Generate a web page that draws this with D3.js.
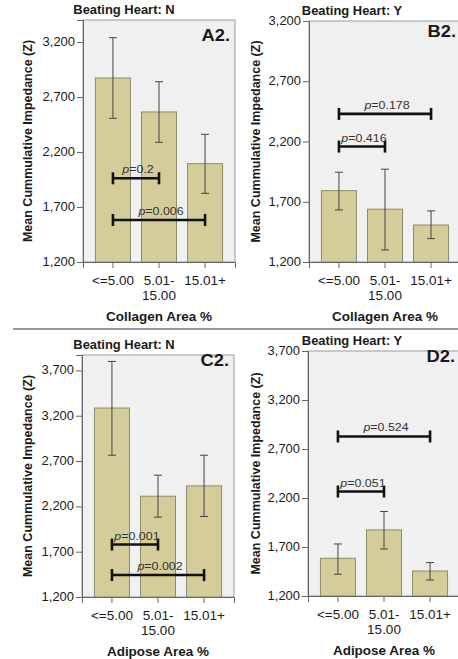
<!DOCTYPE html>
<html>
<head>
<meta charset="utf-8">
<script src="https://cdn.jsdelivr.net/npm/d3@7"></script>
<style>
  body { margin: 0; background: #fff; }
  text { font-family: "Liberation Sans", Arial, sans-serif; fill: #1a1a1a; }
</style>
</head>
<body>
<div id="chart"></div>
<script>
// Category labels (x axis), split into lines as in the original
const categories = ["<=5.00", "5.01-15.00", "15.01+"];
const categoryLines = [["<=5.00"], ["5.01-", "15.00"], ["15.01+"]];

// Panel A2 - collagen, beating heart N
const collagenN_mean = [2873, 2564, 2094];
const collagenN_lo = [2506, 2288, 1824];
const collagenN_hi = [3239, 2839, 2361];
const collagenN_p = [
  { from: 0, to: 1, value: 1961, label: "0.2" },
  { from: 0, to: 2, value: 1582, label: "0.006" }
];

// Panel B2 - collagen, beating heart Y
const collagenY_mean = [1792, 1638, 1507];
const collagenY_lo = [1632, 1300, 1394];
const collagenY_hi = [1945, 1970, 1624];
const collagenY_p = [
  { from: 0, to: 1, value: 2158, label: "0.416" },
  { from: 0, to: 2, value: 2429, label: "0.178" }
];

// Panel C2 - adipose, beating heart N
const adiposeN_mean = [3285, 2312, 2426];
const adiposeN_lo = [2764, 2081, 2088];
const adiposeN_hi = [3799, 2544, 2764];
const adiposeN_p = [
  { from: 0, to: 1, value: 1779, label: "0.001" },
  { from: 0, to: 2, value: 1442, label: "0.002" }
];

// Panel D2 - adipose, beating heart Y
const adiposeY_mean = [1585, 1874, 1455];
const adiposeY_lo = [1422, 1680, 1363];
const adiposeY_hi = [1731, 2062, 1541];
const adiposeY_p = [
  { from: 0, to: 1, value: 2266, label: "0.051" },
  { from: 0, to: 2, value: 2828, label: "0.524" }
];

const ticksCollagen = [1200, 1700, 2200, 2700, 3200];
const ticksAdipose = [1200, 1700, 2200, 2700, 3200, 3700];

const W = 458, H = 659;
const svg = d3.select("#chart").append("svg")
  .attr("width", W).attr("height", H);

const sx = 1.08; // text in the original looks slightly stretched sideways

function label(g, x, y, str, size, opts = {}) {
  const t = g.append("text")
    .attr("transform", `translate(${x},${y}) scale(${sx},1)`)
    .attr("text-anchor", opts.anchor || "middle")
    .style("font-size", size + "px")
    .style("font-weight", opts.bold ? "bold" : "normal");
  if (opts.p) {
    t.append("tspan").style("font-style", "italic").text("p");
    t.append("tspan").text("=" + str);
  } else {
    t.text(str);
  }
  return t;
}

const panels = [
  { ox: 0, oy: 0, left: 83, right: 235, top: 20, bottom: 262, domain: [1200, 3400],
    mean: collagenN_mean, lo: collagenN_lo, hi: collagenN_hi, p: collagenN_p,
    ticks: ticksCollagen, title: "Beating Heart: N", tag: "A2.", tagY: 41, xTitle: "Collagen Area %" },
  { ox: 228, oy: 0, left: 81, right: 233, top: 21, bottom: 262, domain: [1200, 3200],
    mean: collagenY_mean, lo: collagenY_lo, hi: collagenY_hi, p: collagenY_p,
    ticks: ticksCollagen, title: "Beating Heart: Y", tag: "B2.", tagY: 37, xTitle: "Collagen Area %" },
  { ox: 0, oy: 328, left: 82, right: 234, top: 27, bottom: 269, domain: [1200, 3870],
    mean: adiposeN_mean, lo: adiposeN_lo, hi: adiposeN_hi, p: adiposeN_p,
    ticks: ticksAdipose, title: "Beating Heart: N", tag: "C2.", tagY: 38, xTitle: "Adipose Area %" },
  { ox: 228, oy: 328, left: 80, right: 232, top: 23, bottom: 268, domain: [1200, 3700],
    mean: adiposeY_mean, lo: adiposeY_lo, hi: adiposeY_hi, p: adiposeY_p,
    ticks: ticksAdipose, title: "Beating Heart: Y", tag: "D2.", tagY: 34, xTitle: "Adipose Area %" }
];

panels.forEach(p => {
  const g = svg.append("g").attr("transform", `translate(${p.ox},${p.oy})`);

  const x = d3.scaleBand().domain(categories).range([p.left, p.right])
    .paddingInner(0.24).paddingOuter(0.27);
  const y = d3.scaleLinear().domain(p.domain).range([p.bottom, p.top]);
  const cx = i => x(categories[i]) + x.bandwidth() / 2;

  // plot background
  g.append("rect")
    .attr("x", p.left).attr("y", p.top)
    .attr("width", p.right - p.left).attr("height", p.bottom - p.top)
    .attr("fill", "#f0f0f0").attr("stroke", "#9a9a9a").attr("stroke-width", 1);

  // bars
  g.selectAll(".bar").data(p.mean).join("rect")
    .attr("class", "bar")
    .attr("x", (d, i) => x(categories[i]))
    .attr("y", d => y(d))
    .attr("width", x.bandwidth())
    .attr("height", d => p.bottom - y(d))
    .attr("fill", "#d4cd99")
    .attr("stroke", "#8f8a68").attr("stroke-width", 1);

  // error bars
  const eb = g.selectAll(".err").data(p.mean).join("g").attr("class", "err")
    .attr("stroke", "#444").attr("stroke-width", 1);
  eb.append("line")
    .attr("x1", (d, i) => cx(i)).attr("x2", (d, i) => cx(i))
    .attr("y1", (d, i) => y(p.lo[i])).attr("y2", (d, i) => y(p.hi[i]));
  eb.append("line")
    .attr("x1", (d, i) => cx(i) - 4).attr("x2", (d, i) => cx(i) + 4)
    .attr("y1", (d, i) => y(p.hi[i])).attr("y2", (d, i) => y(p.hi[i]));
  eb.append("line")
    .attr("x1", (d, i) => cx(i) - 4).attr("x2", (d, i) => cx(i) + 4)
    .attr("y1", (d, i) => y(p.lo[i])).attr("y2", (d, i) => y(p.lo[i]));

  // significance brackets
  p.p.forEach(s => {
    const x1 = cx(s.from), x2 = cx(s.to), yy = y(s.value);
    const b = g.append("g").attr("stroke", "#111").attr("stroke-width", 2.6);
    b.append("line").attr("x1", x1).attr("x2", x2).attr("y1", yy).attr("y2", yy);
    b.append("line").attr("x1", x1).attr("x2", x1).attr("y1", yy - 6).attr("y2", yy + 6);
    b.append("line").attr("x1", x2).attr("x2", x2).attr("y1", yy - 6).attr("y2", yy + 6);
    label(g, (x1 + x2) / 2 + 2, yy - 5, s.label, 11.5, { p: true }).style("fill", "#333");
  });

  // y axis
  const yAxis = g.append("g").attr("transform", `translate(${p.left},0)`)
    .call(d3.axisLeft(y).tickValues(p.ticks).tickFormat(d3.format(",")).tickSizeOuter(0).tickSize(6));
  yAxis.select(".domain").attr("stroke", "#666");
  yAxis.selectAll(".tick line").attr("stroke", "#666");
  yAxis.selectAll(".tick text").remove();
  p.ticks.forEach(t => label(g, p.left - 8, y(t) + 4, d3.format(",")(t), 12, { anchor: "end" }));

  // x axis
  const xAxis = g.append("g").attr("transform", `translate(0,${p.bottom})`)
    .call(d3.axisBottom(x).tickSizeOuter(0).tickSize(6));
  xAxis.select(".domain").attr("stroke", "#666");
  xAxis.selectAll(".tick line").attr("stroke", "#666");
  xAxis.selectAll(".tick text").remove();
  categoryLines.forEach((lines, i) => {
    lines.forEach((ln, k) => label(g, cx(i), p.bottom + 23 + k * 15, ln, 12.5));
  });

  // titles
  label(g, 124, p.top - 6, p.title, 12, { bold: true });
  label(g, p.right - 5, p.tagY, p.tag, 17, { anchor: "end", bold: true });
  label(g, cx(1), p.bottom + 59, p.xTitle, 12.5, { bold: true });
  g.append("text")
    .attr("transform", `translate(32,${(p.top + p.bottom) / 2}) rotate(-90)`)
    .attr("text-anchor", "middle")
    .style("font-size", "12.5px").style("font-weight", "bold")
    .text("Mean Cummulative Impedance (Z)");
});

// separator between the upper and lower rows
svg.append("line")
  .attr("x1", 13).attr("x2", W).attr("y1", 329).attr("y2", 329)
  .attr("stroke", "#999").attr("stroke-width", 2);
</script>
</body>
</html>
